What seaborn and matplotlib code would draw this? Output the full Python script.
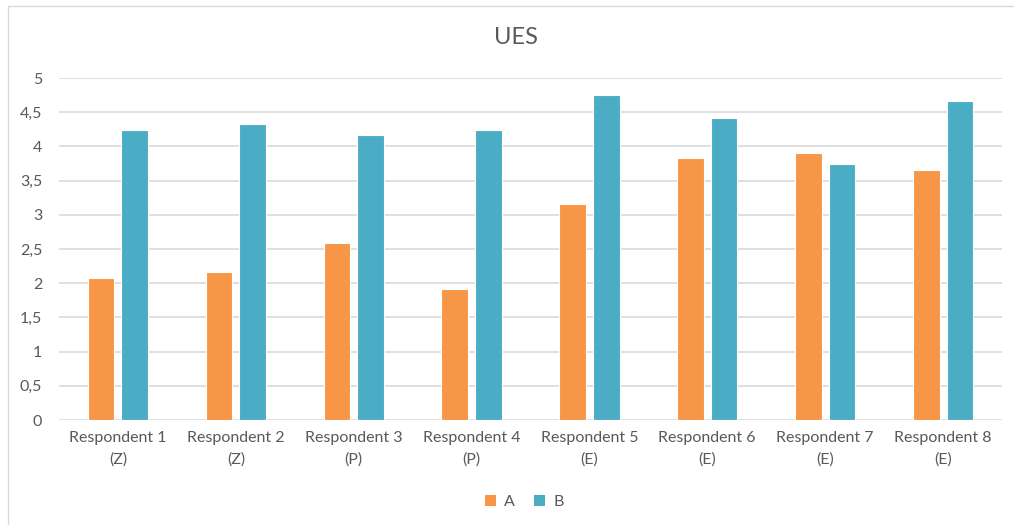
import matplotlib
matplotlib.use("Agg")
import matplotlib.pyplot as plt
from matplotlib.patches import Rectangle, Patch
import seaborn as sns
import pandas as pd

# Data
respondents = ["Respondent 1\n(Z)", "Respondent 2\n(Z)", "Respondent 3\n(P)", "Respondent 4\n(P)",
               "Respondent 5\n(E)", "Respondent 6\n(E)", "Respondent 7\n(E)", "Respondent 8\n(E)"]
series_a = [2.08, 2.17, 2.59, 1.92, 3.16, 3.83, 3.91, 3.66]
series_b = [4.24, 4.33, 4.16, 4.24, 4.75, 4.41, 3.75, 4.67]
series_names = ["A", "B"]
y_ticks = [0, 0.5, 1, 1.5, 2, 2.5, 3, 3.5, 4, 4.5, 5]
y_tick_labels = ["0", "0,5", "1", "1,5", "2", "2,5", "3", "3,5", "4", "4,5", "5"]
title = "UES"

colors = {"A": "#F79646", "B": "#4BACC6"}
text_color = "#595959"
grid_color = "#D9D9D9"

df = pd.DataFrame({
    "respondent": respondents * 2,
    "series": [series_names[0]] * len(series_a) + [series_names[1]] * len(series_b),
    "value": series_a + series_b,
})

sns.set_theme(style="white")
plt.rcParams["font.family"] = ["Lato", "DejaVu Sans"]

fig = plt.figure(figsize=(10.14, 5.25), dpi=100)
ax = fig.add_axes([59 / 1014, 105 / 525, (1002 - 59) / 1014, (420 - 78) / 525])

sns.barplot(data=df, x="respondent", y="value", hue="series", order=respondents,
            hue_order=series_names, palette=colors, width=0.57, gap=0.21,
            edgecolor="white", linewidth=0.8, saturation=1, legend=False, ax=ax, zorder=3)

ax.set_xlim(-0.5, len(respondents) - 0.5)
ax.set_ylim(0, 5)
ax.set_yticks(y_ticks)
ax.set_yticklabels(y_tick_labels)
ax.yaxis.grid(True, color=grid_color, linewidth=1.2, zorder=0)
ax.set_axisbelow(True)
for s in ax.spines.values():
    s.set_visible(False)
ax.tick_params(axis="both", length=0, colors=text_color, labelsize=11.5)
ax.tick_params(axis="y", pad=12)
ax.tick_params(axis="x", pad=8)
for lbl in ax.get_xticklabels():
    lbl.set_linespacing(1.6)
ax.set_xlabel("")
ax.set_ylabel("")

fig.text(0.509, 1 - 38 / 525, title, ha="center", va="center", fontsize=17, color=text_color)

handles = [Patch(facecolor=colors[n], edgecolor="none") for n in series_names]
fig.legend(handles, series_names, loc="center", bbox_to_anchor=(0.517, 1 - 502 / 525), ncol=2,
           frameon=False, fontsize=11.5, handlelength=0.7, handleheight=0.7, handletextpad=0.5,
           columnspacing=1.2, labelcolor=text_color)

# Outer chart frame
fig.patches.append(Rectangle((8 / 1014, -0.1), 1.2, 1 - 6 / 525 + 0.1, transform=fig.transFigure,
                             fill=False, edgecolor=grid_color, linewidth=1.0))

fig.savefig("out.png", dpi=100, facecolor="white")
